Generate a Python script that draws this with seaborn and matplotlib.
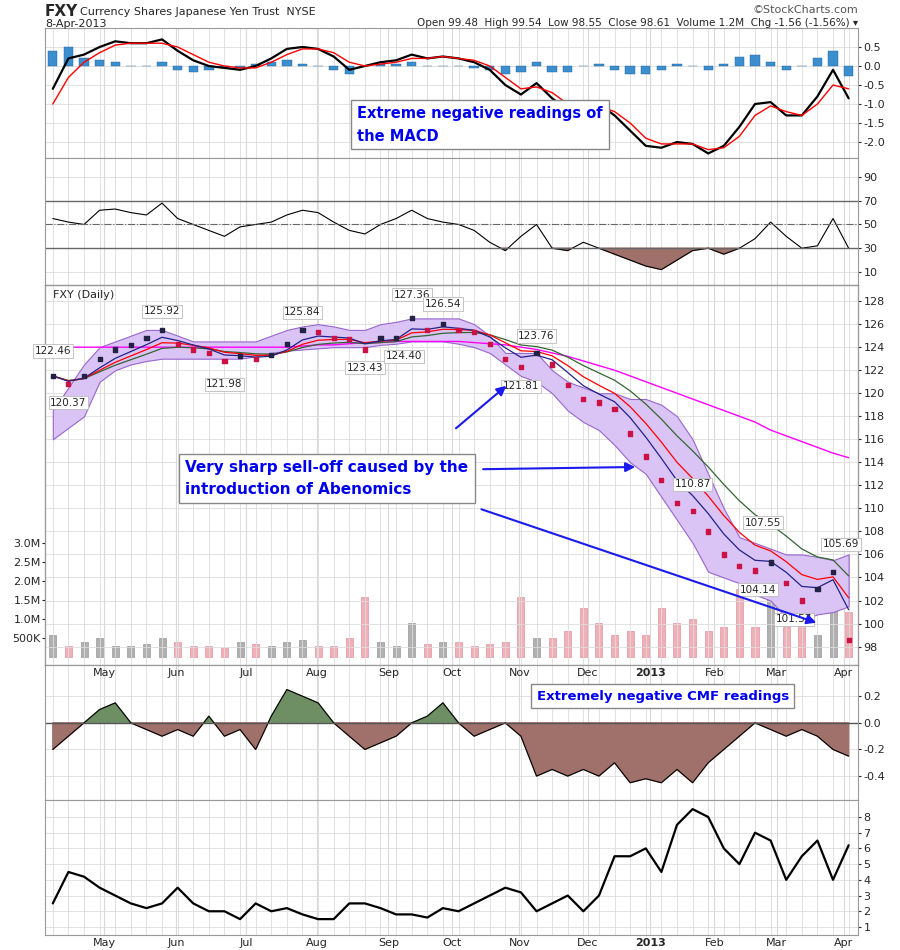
import numpy as np
import pandas as pd
import matplotlib
matplotlib.use("Agg")
import matplotlib.pyplot as plt
import seaborn as sns

# weekly readings, mid-Apr 2012 .. 8-Apr-2013
close = [121.5, 120.8, 121.5, 123.0, 123.8, 124.2, 124.8, 125.5, 124.3, 123.8, 123.5, 122.8, 123.2,
         123.0, 123.3, 124.3, 125.5, 125.3, 124.8, 124.7, 123.8, 124.8, 124.8, 126.5, 125.5, 126.0,
         125.5, 125.3, 124.3, 123.0, 122.3, 123.5, 122.5, 120.7, 119.5, 119.2, 118.6, 116.5, 114.5,
         112.5, 110.5, 109.8, 108.0, 106.0, 105.0, 104.6, 105.3, 103.5, 102.0, 103.0, 104.5, 98.6]
bb_upper = [118.5, 120.5, 122.5, 124.0, 124.5, 125.0, 125.5, 125.5, 125.0, 124.5, 124.5, 124.5, 124.5,
            124.5, 125.0, 125.5, 125.8, 126.0, 125.8, 125.5, 125.5, 126.0, 126.2, 126.5, 126.5, 126.5,
            126.5, 126.0, 125.0, 123.5, 123.5, 123.5, 122.0, 121.0, 120.5, 120.0, 120.0, 119.5, 119.5,
            119.0, 118.0, 116.0, 113.0, 110.0, 107.5, 107.0, 106.5, 106.0, 106.0, 105.8, 105.5, 106.0]
bb_lower = [116.0, 117.0, 118.0, 121.0, 122.0, 122.5, 122.8, 123.0, 123.0, 123.0, 123.0, 123.0, 123.0,
            123.2, 123.5, 123.7, 123.8, 123.9, 124.0, 124.0, 124.0, 124.2, 124.3, 124.5, 124.5, 124.5,
            124.3, 124.0, 123.5, 122.5, 121.5, 121.0, 120.0, 118.5, 117.5, 116.8, 115.5, 114.0, 113.0,
            111.0, 109.0, 107.0, 104.5, 104.0, 103.5, 102.5, 102.0, 100.5, 100.3, 100.8, 101.0, 101.5]
ma_200 = [124.0, 124.0, 124.0, 124.0, 124.0, 124.0, 124.0, 124.0, 124.0, 124.0, 124.0, 124.0, 124.0,
          124.0, 124.0, 124.0, 124.1, 124.2, 124.2, 124.3, 124.4, 124.4, 124.5, 124.5, 124.5, 124.5,
          124.5, 124.4, 124.3, 124.2, 124.0, 123.8, 123.5, 123.2, 122.8, 122.4, 122.0, 121.5, 121.0,
          120.5, 120.0, 119.5, 119.0, 118.5, 118.0, 117.5, 116.8, 116.3, 115.8, 115.3, 114.8, 114.4]
volume = [0.6, 0.3, 0.4, 0.5, 0.3, 0.3, 0.35, 0.5, 0.4, 0.3, 0.3, 0.25, 0.4, 0.35, 0.3, 0.4, 0.45, 0.3,
          0.3, 0.5, 1.6, 0.4, 0.3, 0.9, 0.35, 0.4, 0.4, 0.3, 0.35, 0.4, 1.6, 0.5, 0.5, 0.7, 1.3, 0.9,
          0.6, 0.7, 0.6, 1.3, 0.9, 1.0, 0.7, 0.8, 1.8, 0.8, 1.9, 0.8, 1.0, 0.6, 1.3, 1.2]
macd = [-0.6, 0.2, 0.3, 0.5, 0.65, 0.6, 0.6, 0.7, 0.4, 0.15, 0.0, -0.05, -0.1, 0.0, 0.2, 0.45, 0.5, 0.45,
        0.25, -0.1, 0.0, 0.1, 0.15, 0.3, 0.2, 0.25, 0.2, 0.1, -0.1, -0.5, -0.75, -0.45, -0.85, -1.15,
        -1.05, -1.0, -1.3, -1.7, -2.1, -2.15, -2.0, -2.05, -2.3, -2.1, -1.6, -1.0, -0.95, -1.3, -1.3,
        -0.8, -0.1, -0.85]
signal = [-1.0, -0.3, 0.1, 0.35, 0.55, 0.6, 0.6, 0.6, 0.5, 0.3, 0.1, 0.0, -0.05, -0.05, 0.1, 0.3, 0.45,
          0.45, 0.35, 0.1, 0.0, 0.05, 0.1, 0.2, 0.2, 0.25, 0.2, 0.15, 0.0, -0.3, -0.6, -0.55, -0.7, -1.0,
          -1.05, -1.05, -1.2, -1.5, -1.9, -2.05, -2.05, -2.05, -2.2, -2.15, -1.85, -1.3, -1.05, -1.2,
          -1.3, -1.0, -0.5, -0.6]
rsi = [55, 52, 50, 62, 63, 60, 58, 68, 55, 50, 45, 40, 48, 50, 52, 58, 62, 60, 52, 45, 42, 50, 55, 62,
       55, 52, 50, 45, 35, 28, 40, 50, 30, 28, 35, 30, 25, 20, 15, 12, 20, 28, 30, 25, 30, 38, 52, 40,
       30, 32, 55, 30]
cmf = [-0.2, -0.1, 0.0, 0.1, 0.15, 0.0, -0.05, -0.1, -0.05, -0.1, 0.05, -0.1, -0.05, -0.2, 0.05, 0.25,
       0.2, 0.15, 0.0, -0.1, -0.2, -0.15, -0.1, 0.0, 0.05, 0.15, 0.0, -0.1, -0.05, 0.0, -0.1, -0.4,
       -0.35, -0.4, -0.35, -0.4, -0.3, -0.45, -0.42, -0.45, -0.35, -0.45, -0.3, -0.2, -0.1, 0.0, -0.05,
       -0.1, -0.05, -0.1, -0.2, -0.25]
lower_ind = [2.5, 4.5, 4.2, 3.5, 3.0, 2.5, 2.2, 2.5, 3.5, 2.5, 2.0, 2.0, 1.5, 2.5, 2.0, 2.2, 1.8, 1.5,
             1.5, 2.5, 2.5, 2.2, 1.8, 1.8, 1.6, 2.2, 2.0, 2.5, 3.0, 3.5, 3.2, 2.0, 2.5, 3.0, 2.0, 3.0,
             5.5, 5.5, 6.0, 4.5, 7.5, 8.5, 8.0, 6.0, 5.0, 7.0, 6.5, 4.0, 5.5, 6.5, 4.0, 6.2]
month_labels = ["May", "Jun", "Jul", "Aug", "Sep", "Oct", "Nov", "Dec", "2013", "Feb", "Mar", "Apr"]
month_pos = [3.3, 7.9, 12.4, 16.9, 21.5, 25.6, 29.9, 34.3, 38.3, 42.4, 46.4, 50.7]
price_marks = [(0, 122.46, 1), (1, 120.37, -1), (7, 125.92, 1), (11, 121.98, -1), (16, 125.84, 1),
               (20, 123.43, -1), (23, 127.36, 1), (22.5, 124.40, -1), (25, 126.54, 1),
               (30, 121.81, -1), (31, 123.76, 1), (41, 110.87, 1), (45.5, 107.55, 1),
               (45.2, 104.14, -1), (47.5, 101.57, -1), (50.5, 105.69, 1)]

df = pd.DataFrame({"wk": np.arange(len(close)), "close": close, "upper": bb_upper, "lower": bb_lower,
                   "ma200": ma_200, "vol": volume, "macd": macd, "signal": signal, "rsi": rsi,
                   "cmf": cmf, "ind": lower_ind})
df["hist"] = df["macd"] - df["signal"]
df["ma_fast"] = df["close"].ewm(span=3).mean()
df["ma_mid"] = df["close"].ewm(span=5).mean()
df["ma_slow"] = df["close"].ewm(span=9).mean()
up = df["close"].diff().fillna(0) >= 0

sns.set_style("white")
fig = plt.figure(figsize=(9, 9.5), dpi=100)
W, H = 900, 950


def panel(top, bottom):
    ax = fig.add_axes([45 / W, 1 - bottom / H, 813 / W, (bottom - top) / H])
    ax.set_xlim(-0.5, 51.6)
    ax.yaxis.tick_right()
    ax.tick_params(axis="y", labelsize=8, length=2, pad=2)
    ax.tick_params(axis="x", length=0)
    ax.set_xticks(month_pos)
    ax.set_xticks(np.arange(0, 52, 1.0), minor=True)
    ax.grid(True, which="both", axis="x", color="#dddddd", lw=0.6)
    ax.grid(True, axis="y", color="#dddddd", lw=0.6)
    for m in month_pos:
        ax.axvline(m, color="#c8c8c8", lw=0.8, zorder=0)
    for s in ax.spines.values():
        s.set_color("#999999")
        s.set_linewidth(0.8)
    return ax


# MACD
ax1 = panel(28, 158)
ax1.bar(df["wk"], df["hist"], width=0.6, color="#3b8fcf", edgecolor="#1f5f99", lw=0.3)
sns.lineplot(data=df, x="wk", y="macd", ax=ax1, color="black", lw=1.6)
sns.lineplot(data=df, x="wk", y="signal", ax=ax1, color="red", lw=1.0)
ax1.set_ylim(-2.42, 1.0)
ax1.set_yticks([0.5, 0.0, -0.5, -1.0, -1.5, -2.0])
ax1.set_yticklabels(["0.5", "0.0", "-0.5", "-1.0", "-1.5", "-2.0"])
ax1.text(19.5, -1.55, "Extreme negative readings of\nthe MACD", color="#0000ee", fontsize=10.5,
         fontweight="bold", va="center", linespacing=1.6,
         bbox=dict(boxstyle="square,pad=0.4", fc="white", ec="#888888"))

# RSI
ax2 = panel(158, 285)
sns.lineplot(data=df, x="wk", y="rsi", ax=ax2, color="black", lw=0.8)
ax2.fill_between(df["wk"], df["rsi"], 30, where=df["rsi"] < 30, interpolate=True, color="#a0706a")
ax2.axhline(70, color="#666666", lw=1)
ax2.axhline(30, color="#666666", lw=1)
ax2.axhline(50, color="#666666", lw=0.8, ls="-.")
ax2.set_ylim(-1, 106)
ax2.set_yticks([10, 30, 50, 70, 90])

# price
ax3 = panel(285, 665)
axv = ax3.twinx()
ax3.yaxis.tick_right()
axv.set_position(ax3.get_position())
axv.bar(df["wk"], df["vol"], width=0.45, color=np.where(up, "#b0b0b0", "#f0b0b8"),
        edgecolor=np.where(up, "#888888", "#e08090"), lw=0.4)
axv.set_ylim(-0.2, 9.8)
axv.yaxis.tick_left()
axv.set_yticks([0.5, 1.0, 1.5, 2.0, 2.5, 3.0])
axv.set_yticklabels(["500K", "1.0M", "1.5M", "2.0M", "2.5M", "3.0M"])
axv.tick_params(axis="y", labelsize=8, length=2, pad=1)
ax3.set_zorder(axv.get_zorder() + 1)
ax3.patch.set_visible(False)
ax3.fill_between(df["wk"], df["lower"], df["upper"], color="#d9c4f5", ec="#9966cc", lw=0.8)
sns.lineplot(data=df, x="wk", y="ma200", ax=ax3, color="#ff00ff", lw=1)
sns.lineplot(data=df, x="wk", y="ma_slow", ax=ax3, color="#336633", lw=0.9)
sns.lineplot(data=df, x="wk", y="ma_mid", ax=ax3, color="red", lw=0.9)
sns.lineplot(data=df, x="wk", y="ma_fast", ax=ax3, color="#222288", lw=0.9)
ax3.scatter(df["wk"], df["close"], s=9, marker="s", color=np.where(up, "#222244", "#cc1144"), zorder=5)
for x, v, d in price_marks:
    ax3.annotate(f"{v:.2f}", (x, v), xytext=(0, 10 * d), textcoords="offset points", ha="center",
                 va="center", fontsize=7.5,
                 bbox=dict(boxstyle="square,pad=0.15", fc="white", ec="#bbbbbb", lw=0.6))
ax3.set_ylim(96.4, 129.4)
ax3.set_yticks(np.arange(98, 129, 2))
ax3.text(0.0, 128.5, "FXY (Daily)", fontsize=8, va="center")
ax3.text(8.5, 112.6, "Very sharp sell-off caused by the\nintroduction of Abenomics", color="#0000ee",
         fontsize=11, fontweight="bold", va="center", linespacing=1.6,
         bbox=dict(boxstyle="square,pad=0.4", fc="white", ec="#888888"))
arrow = dict(arrowstyle="-|>", color="#1a1aee", lw=1.5, mutation_scale=14)
ax3.annotate("", xy=(29.2, 120.8), xytext=(25.7, 116.8), arrowprops=arrow)
ax3.annotate("", xy=(37.5, 113.6), xytext=(27.4, 113.4), arrowprops=arrow)
ax3.annotate("", xy=(49.1, 100.0), xytext=(27.3, 110.0), arrowprops=arrow)

# CMF
ax4 = panel(665, 800)
sns.lineplot(data=df, x="wk", y="cmf", ax=ax4, color="black", lw=0.8)
ax4.fill_between(df["wk"], df["cmf"], 0, where=df["cmf"] >= 0, interpolate=True, color="#6e8f64")
ax4.fill_between(df["wk"], df["cmf"], 0, where=df["cmf"] < 0, interpolate=True, color="#a0706a")
ax4.axhline(0, color="#555555", lw=1)
ax4.set_ylim(-0.58, 0.435)
ax4.set_yticks([-0.4, -0.2, 0.0, 0.2])
ax4.set_yticklabels(["-0.4", "-0.2", "0.0", "0.2"])
ax4.text(31.0, 0.2, "Extremely negative CMF readings", color="#0000ee", fontsize=9.5,
         fontweight="bold", va="center",
         bbox=dict(boxstyle="square,pad=0.4", fc="white", ec="#888888"))

# lower indicator
ax5 = panel(800, 935)
sns.lineplot(data=df, x="wk", y="ind", ax=ax5, color="black", lw=1.6)
ax5.set_ylim(0.49, 9.08)
ax5.set_yticks(range(1, 9))

for ax in [ax1, ax2, ax3, ax4, ax5]:
    ax.set_xlabel("")
    ax.set_ylabel("")
    ax.set_xticklabels([])
axv.set_ylabel("")
for ax in [ax3, ax5]:
    ax.set_xticklabels(month_labels, fontsize=8)
    ax.tick_params(axis="x", pad=2)
    ax.get_xticklabels()[8].set_fontweight("bold")

fig.text(45 / W, 1 - 12 / H, "FXY", fontsize=11, fontweight="bold", va="center")
fig.text(80 / W, 1 - 12 / H, "Currency Shares Japanese Yen Trust  NYSE", fontsize=8, va="center")
fig.text(45 / W, 1 - 24 / H, "8-Apr-2013", fontsize=8, va="center")
fig.text(858 / W, 1 - 10 / H, "©StockCharts.com", fontsize=8, ha="right", va="center", color="#555555")
fig.text(858 / W, 1 - 23 / H,
         "Open 99.48  High 99.54  Low 98.55  Close 98.61  Volume 1.2M  Chg -1.56 (-1.56%) ▾",
         fontsize=7.5, ha="right", va="center")

fig.savefig("out.png", dpi=100)
